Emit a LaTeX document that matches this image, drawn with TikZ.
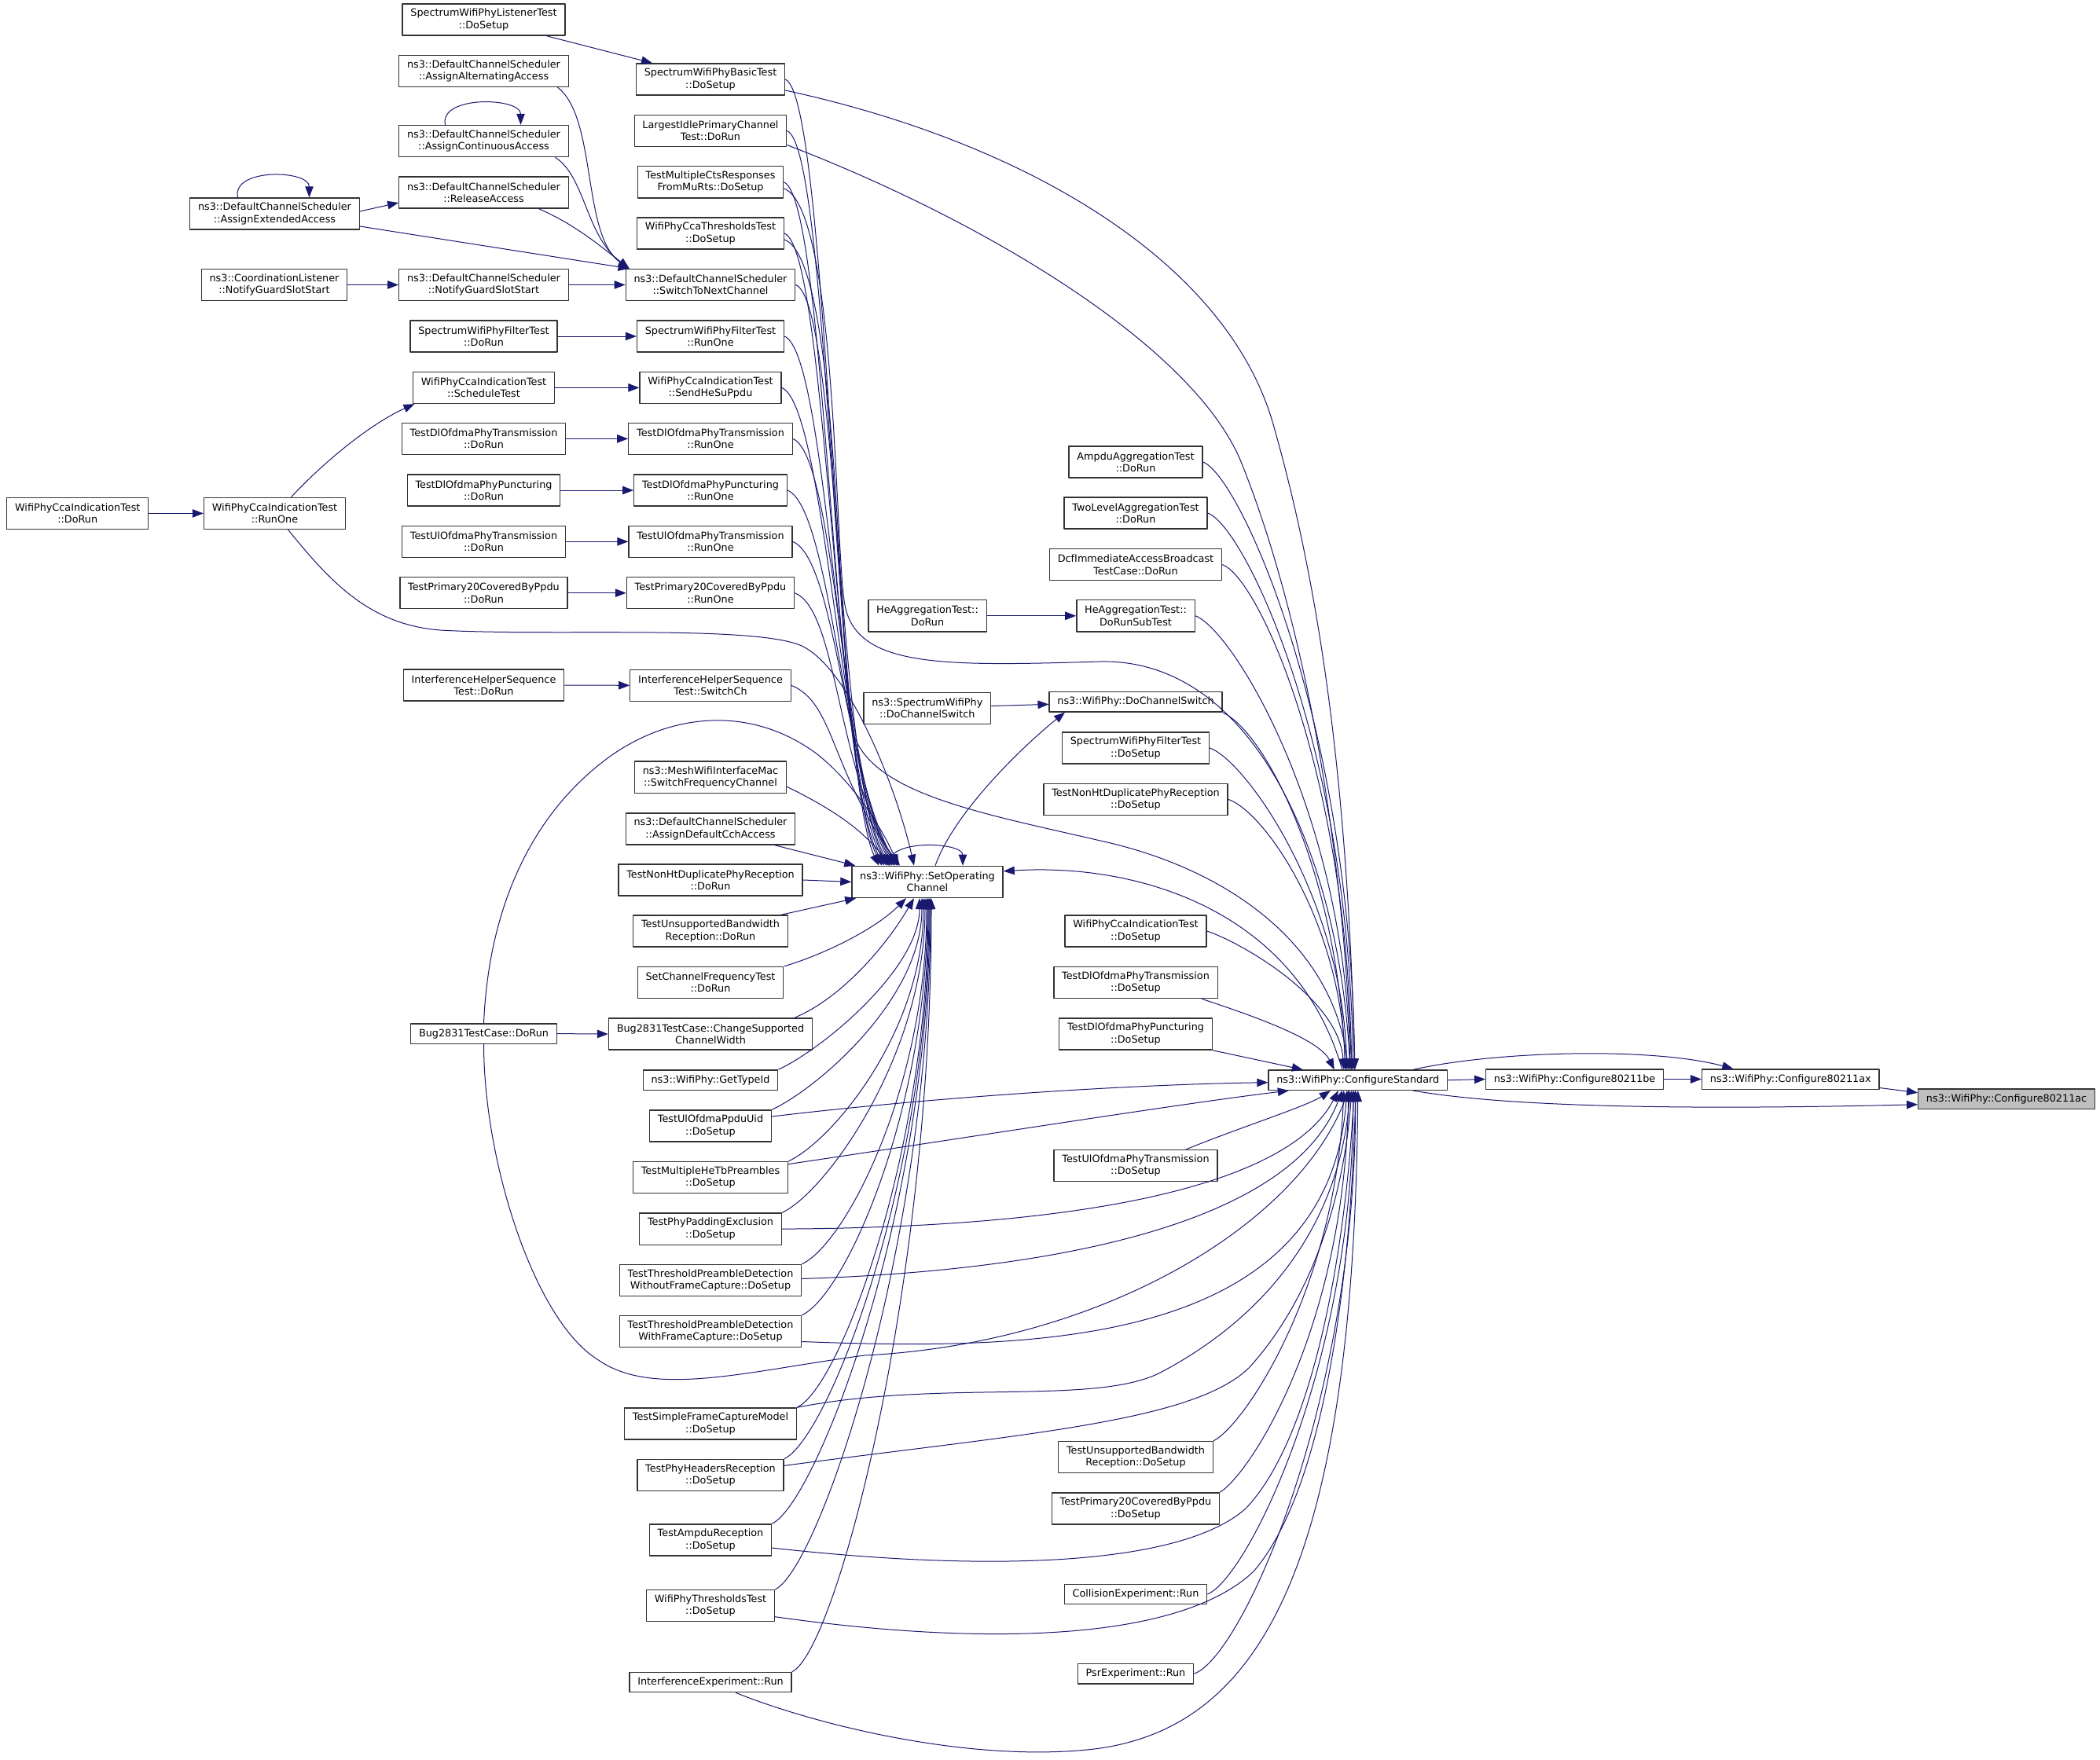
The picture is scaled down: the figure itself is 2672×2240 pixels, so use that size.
\documentclass[tikz,border=0pt]{standalone}
\usepackage{fontspec}
\setmainfont{DejaVu Sans}
\usetikzlibrary{arrows.meta}
\definecolor{edgeblue}{HTML}{191970}
\definecolor{hilite}{HTML}{BFBFBF}
\tikzset{
  fn/.style={draw=black!80, line width=1.3pt, fill=white, align=center, inner xsep=10.3pt, inner ysep=5pt, minimum height=25.3pt},
  fn2/.style={fn, minimum height=40.2pt},
  call/.style={draw=edgeblue, line width=1pt, ->},
}
\begin{document}
\begin{tikzpicture}[x=1pt, y=-1pt, font=\fontsize{12.8}{15.3}\selectfont, line join=round, >={Stealth[inset=0pt,length=14pt,width=10.5pt]}]
\useasboundingbox[fill=white] (0,0) rectangle (2672,2240);
% callers, left to right
\node[fn2] (ccaDoRun) at (98.75,653.4) {WifiPhyCcaIndicationTest\\::DoRun};
\node[fn2] (assignExt) at (349.5,272) {ns3::DefaultChannelScheduler\\::AssignExtendedAccess};
\node[fn2] (coordL) at (349,362.5) {ns3::CoordinationListener\\::NotifyGuardSlotStart};
\node[fn2] (ccaRunOne) at (349.5,653.4) {WifiPhyCcaIndicationTest\\::RunOne};
\node[fn2] (listener) at (615.5,25) {SpectrumWifiPhyListenerTest\\::DoSetup};
\node[fn2] (assignAlt) at (615.5,90.4) {ns3::DefaultChannelScheduler\\::AssignAlternatingAccess};
\node[fn2] (assignCont) at (615.5,179.6) {ns3::DefaultChannelScheduler\\::AssignContinuousAccess};
\node[fn2] (release) at (615.5,245) {ns3::DefaultChannelScheduler\\::ReleaseAccess};
\node[fn2] (dcsNotify) at (615.5,362.5) {ns3::DefaultChannelScheduler\\::NotifyGuardSlotStart};
\node[fn2] (filterDoRun) at (615.5,428) {SpectrumWifiPhyFilterTest\\::DoRun};
\node[fn2] (schedule) at (615.5,493.4) {WifiPhyCcaIndicationTest\\::ScheduleTest};
\node[fn2] (dlTxDoRun) at (615.5,558.4) {TestDlOfdmaPhyTransmission\\::DoRun};
\node[fn2] (punctDoRun) at (615.5,624) {TestDlOfdmaPhyPuncturing\\::DoRun};
\node[fn2] (ulTxDoRun) at (615.5,689.3) {TestUlOfdmaPhyTransmission\\::DoRun};
\node[fn2] (p20DoRun) at (615.5,754.7) {TestPrimary20CoveredByPpdu\\::DoRun};
\node[fn2] (ihsDoRun) at (615.5,872) {InterferenceHelperSequence\\Test::DoRun};
\node[fn] (bugDoRun) at (615.5,1315.6) {Bug2831TestCase::DoRun};
\node[fn2] (basic) at (904,101) {SpectrumWifiPhyBasicTest\\::DoSetup};
\node[fn2] (largest) at (904,166.5) {LargestIdlePrimaryChannel\\Test::DoRun};
\node[fn2] (multiCts) at (904,231.8) {TestMultipleCtsResponses\\FromMuRts::DoSetup};
\node[fn2] (ccaThr) at (904,297) {WifiPhyCcaThresholdsTest\\::DoSetup};
\node[fn2] (switchNext) at (904,362.5) {ns3::DefaultChannelScheduler\\::SwitchToNextChannel};
\node[fn2] (filterRunOne) at (904,428) {SpectrumWifiPhyFilterTest\\::RunOne};
\node[fn2] (sendHeSu) at (904,493.4) {WifiPhyCcaIndicationTest\\::SendHeSuPpdu};
\node[fn2] (dlTxRunOne) at (904,558.4) {TestDlOfdmaPhyTransmission\\::RunOne};
\node[fn2] (punctRunOne) at (904,624) {TestDlOfdmaPhyPuncturing\\::RunOne};
\node[fn2] (ulTxRunOne) at (904,689.3) {TestUlOfdmaPhyTransmission\\::RunOne};
\node[fn2] (p20RunOne) at (904,754.7) {TestPrimary20CoveredByPpdu\\::RunOne};
\node[fn2] (ihsSwitch) at (904,872.3) {InterferenceHelperSequence\\Test::SwitchCh};
\node[fn2] (mesh) at (904,989.2) {ns3::MeshWifiInterfaceMac\\::SwitchFrequencyChannel};
\node[fn2] (assignCch) at (904,1055) {ns3::DefaultChannelScheduler\\::AssignDefaultCchAccess};
\node[fn2] (nonHtDoRun) at (904,1120) {TestNonHtDuplicatePhyReception\\::DoRun};
\node[fn2] (unsupDoRun) at (904,1185) {TestUnsupportedBandwidth\\Reception::DoRun};
\node[fn2] (setFreq) at (904,1250.5) {SetChannelFrequencyTest\\::DoRun};
\node[fn2] (bugChange) at (904,1316) {Bug2831TestCase::ChangeSupported\\ChannelWidth};
\node[fn] (typeId) at (904,1374.5) {ns3::WifiPhy::GetTypeId};
\node[fn2] (ppduUid) at (904,1433) {TestUlOfdmaPpduUid\\::DoSetup};
\node[fn2] (heTb) at (904,1498.6) {TestMultipleHeTbPreambles\\::DoSetup};
\node[fn2] (padding) at (904,1564.1) {TestPhyPaddingExclusion\\::DoSetup};
\node[fn2] (thrWithout) at (904,1629.5) {TestThresholdPreambleDetection\\WithoutFrameCapture::DoSetup};
\node[fn2] (thrWith) at (904,1694.5) {TestThresholdPreambleDetection\\WithFrameCapture::DoSetup};
\node[fn2] (simpleCap) at (904,1812) {TestSimpleFrameCaptureModel\\::DoSetup};
\node[fn2] (phyHdr) at (904,1877.4) {TestPhyHeadersReception\\::DoSetup};
\node[fn2] (ampduRx) at (904,1960) {TestAmpduReception\\::DoSetup};
\node[fn2] (thrTest) at (904,2043.7) {WifiPhyThresholdsTest\\::DoSetup};
\node[fn] (interfExp) at (904,2141) {InterferenceExperiment::Run};
\node[fn2] (heDoRun) at (1180,783.8) {HeAggregationTest::\\DoRun};
\node[fn2] (spDoCh) at (1179.8,901.5) {ns3::SpectrumWifiPhy\\::DoChannelSwitch};
\node[fn2] (soc) at (1180,1122.4) {ns3::WifiPhy::SetOperating\\Channel};
\node[fn2] (ampduAgg) at (1445,588) {AmpduAggregationTest\\::DoRun};
\node[fn2] (twoLevel) at (1445,653) {TwoLevelAggregationTest\\::DoRun};
\node[fn2] (dcfImm) at (1445,718.6) {DcfImmediateAccessBroadcast\\TestCase::DoRun};
\node[fn2] (heSub) at (1445,783.8) {HeAggregationTest::\\DoRunSubTest};
\node[fn] (doCh) at (1445,893.4) {ns3::WifiPhy::DoChannelSwitch};
\node[fn2] (filterSetup) at (1445,952) {SpectrumWifiPhyFilterTest\\::DoSetup};
\node[fn2] (nonHtSetup) at (1445,1017.3) {TestNonHtDuplicatePhyReception\\::DoSetup};
\node[fn2] (ccaSetup) at (1445,1185) {WifiPhyCcaIndicationTest\\::DoSetup};
\node[fn2] (dlTxSetup) at (1445,1250.5) {TestDlOfdmaPhyTransmission\\::DoSetup};
\node[fn2] (punctSetup) at (1445,1316) {TestDlOfdmaPhyPuncturing\\::DoSetup};
\node[fn2] (ulTxSetup) at (1445,1483.7) {TestUlOfdmaPhyTransmission\\::DoSetup};
\node[fn2] (unsupSetup) at (1445,1854.6) {TestUnsupportedBandwidth\\Reception::DoSetup};
\node[fn2] (p20Setup) at (1445,1920) {TestPrimary20CoveredByPpdu\\::DoSetup};
\node[fn] (collision) at (1445,2029) {CollisionExperiment::Run};
\node[fn] (psr) at (1445,2130.2) {PsrExperiment::Run};
\node[fn] (confStd) at (1727.8,1374.7) {ns3::WifiPhy::ConfigureStandard};
\node[fn] (c11be) at (2003.6,1373.5) {ns3::WifiPhy::Configure80211be};
\node[fn] (c11ax) at (2278.3,1373.5) {ns3::WifiPhy::Configure80211ax};
\node[fn, fill=hilite] (c11ac) at (2553.1,1398.7) {ns3::WifiPhy::Configure80211ac};
% straight calls
\foreach \a/\b in {ccaDoRun/ccaRunOne, coordL/dcsNotify, dcsNotify/switchNext, filterDoRun/filterRunOne, schedule/sendHeSu, dlTxDoRun/dlTxRunOne, punctDoRun/punctRunOne, ulTxDoRun/ulTxRunOne, p20DoRun/p20RunOne, ihsDoRun/ihsSwitch, bugDoRun/bugChange, heDoRun/heSub, nonHtDoRun/soc, confStd/c11be, c11be/c11ax}
  \draw[call] (\a.east) -- (\b.west);
\draw[call] ([xshift=80pt]listener.south) -- ([xshift=-74pt]basic.north);
\draw[call] ([yshift=3pt]assignExt.east) -- ([yshift=-13pt]release.west);
\draw[call] ([yshift=-16pt]assignExt.east) -- ([xshift=5pt]switchNext.north west);
\draw[call] ([xshift=94pt]assignAlt.south) .. controls (760,150) and (740,300) .. ([xshift=5pt]switchNext.north west);
\draw[call] ([xshift=91pt]assignCont.south) .. controls (745,225) and (745,300) .. ([xshift=5pt]switchNext.north west);
\draw[call] ([xshift=70pt]release.south) .. controls (730,285) and (760,310) .. ([xshift=5pt]switchNext.north west);
\draw[call] ([xshift=-47pt]assignExt.north) .. controls +(-8,-38) and +(0,-35) .. ([xshift=44pt]assignExt.north);
\draw[call] ([xshift=-49pt]assignCont.north) .. controls +(-8,-38) and +(0,-35) .. ([xshift=47pt]assignCont.north);
\draw[call] ([xshift=21pt]ccaRunOne.north) .. controls (410,590) and (470,540) .. ([xshift=-88pt]schedule.south);
% calls into SetOperatingChannel
\foreach \n/\bx/\s in {basic/1062/-62, largest/1060/-58, multiCts/1058/-55, ccaThr/1060/-52, switchNext/1064/-50, filterRunOne/1066/-48, sendHeSu/1068/-45, dlTxRunOne/1070/-43, punctRunOne/1072/-41, ulTxRunOne/1074/-39, p20RunOne/1064/-37, ihsSwitch/1056/-35}
  \draw[call] (\n.east) .. controls +(55,22) and (\bx,980) .. ([xshift=\s pt]soc.north);
\foreach \n/\s/\k in {typeId/-10/90, ppduUid/-7/130, heTb/-5/170, padding/-3/200, thrWithout/-1/240, thrWith/0/270, simpleCap/1/320, phyHdr/2/360, ampduRx/3/400, thrTest/4/440, interfExp/5/500}
  \draw[call] (\n.north east) .. controls +(55,-25) and +(0,\k) .. ([xshift=\s pt]soc.south);
\draw[call] ([yshift=-12pt]mesh.east) .. controls (1070,1035) and (1100,1060) .. ([xshift=-47pt]soc.north);
\draw[call] ([xshift=82pt]assignCch.south) -- ([xshift=5pt]soc.north west);
\draw[call] ([xshift=90pt]unsupDoRun.north) -- ([xshift=6pt]soc.south west);
\draw[call] ([xshift=94pt]setFreq.north) .. controls +(50,-15) and +(-40,40) .. ([xshift=-27pt]soc.south);
\draw[call] ([xshift=107pt]bugChange.north) .. controls +(60,-25) and +(-35,60) .. ([xshift=-17pt]soc.south);
\draw[call] ([xshift=17pt]ccaRunOne.south) .. controls (420,740) and (470,795) .. (560,802) .. controls (700,810) and (960,795) .. (1020,822) .. controls (1080,850) and (1140,1000) .. ([xshift=-17pt]soc.north);
\draw[call] (bugDoRun.north) .. controls (622,1150) and (680,1030) .. (780,960) .. controls (860,905) and (960,900) .. (1040,960) .. controls (1090,1000) and (1125,1060) .. ([xshift=-37pt]soc.north);
\draw[call] ([xshift=-49pt]soc.north) .. controls +(-5,-35) and +(0,-30) .. ([xshift=45pt]soc.north);
\draw[call] ([xshift=-20pt]confStd.north) .. controls (1650,1160) and (1450,1098) .. (soc.8);
% channel switch
\draw[call] ([xshift=10pt]soc.north) .. controls +(25,-70) and +(-50,40) .. ([xshift=-90pt]doCh.south);
\draw[call] ([yshift=3pt]spDoCh.east) -- ([yshift=-3pt]doCh.west);
\draw[call] (doCh.south east) .. controls +(55,25) and +(-10,-250) .. ([xshift=-16pt]confStd.north);
% calls into ConfigureStandard
\foreach \n/\s/\k in {ampduAgg/-4/450, twoLevel/-6/420, dcfImm/-8/380, heSub/-10/330, filterSetup/-14/220, nonHtSetup/-16/190, ccaSetup/-18/90}
  \draw[call] (\n.east) .. controls +(45,15) and +(-6,-\k) .. ([xshift=\s pt]confStd.north);
\draw[call] ([xshift=84pt]dlTxSetup.south) .. controls +(60,20) and +(-20,-40) .. ([xshift=-30pt]confStd.north);
\draw[call] (punctSetup.south east) -- ([xshift=-70pt]confStd.north);
\draw[call] ([xshift=64pt]ulTxSetup.north) .. controls +(60,-25) and +(-30,20) .. ([xshift=-35pt]confStd.south);
\draw[call] (unsupSetup.north east) .. controls +(40,-20) and +(-10,250) .. ([xshift=-18pt]confStd.south);
\draw[call] (p20Setup.north east) .. controls +(40,-25) and +(-5,300) .. ([xshift=-12pt]confStd.south);
\draw[call] (collision.east) .. controls +(50,-20) and +(0,350) .. ([xshift=-6pt]confStd.south);
\draw[call] (psr.east) .. controls +(60,-20) and +(0,400) .. ([xshift=-3pt]confStd.south);
\draw[call] ([yshift=-14pt]basic.east) .. controls (1300,180) and (1560,330) .. (1620,540) .. controls (1680,750) and (1715,1000) .. ([xshift=-4pt]confStd.north);
\draw[call] ([yshift=-18pt]largest.east) .. controls (1250,280) and (1520,440) .. (1580,590) .. controls (1640,740) and (1705,1000) .. ([xshift=-8pt]confStd.north);
\draw[call] ([yshift=-8pt]multiCts.east) .. controls (1065,265) and (1062,700) .. (1075,770) .. controls (1090,850) and (1200,848) .. (1400,842) .. controls (1600,838) and (1705,1100) .. ([xshift=-10pt]confStd.north);
\draw[call] ([yshift=-8pt]ccaThr.east) .. controls (1068,330) and (1065,820) .. (1085,930) .. controls (1105,1010) and (1250,1035) .. (1400,1070) .. controls (1560,1105) and (1695,1200) .. ([xshift=-12pt]confStd.north);
\draw[call] ([yshift=12pt]ppduUid.east) .. controls (1200,1395) and (1450,1380) .. ([yshift=-3pt]confStd.west);
\draw[call] ([yshift=17pt]heTb.east) .. controls (1250,1445) and (1500,1405) .. ([xshift=-88pt]confStd.south);
\draw[call] (padding.east) .. controls (1450,1562) and (1650,1490) .. ([xshift=-25pt]confStd.south);
\draw[call] ([yshift=2pt]thrWithout.east) .. controls (1400,1615) and (1650,1540) .. ([xshift=-20pt]confStd.south);
\draw[call] ([yshift=-13pt]thrWith.east) .. controls (1300,1718) and (1690,1720) .. ([xshift=-14pt]confStd.south);
\draw[call] (bugDoRun.south) .. controls +(0,150) and (680,1680) .. (760,1730) .. controls (830,1780) and (950,1745) .. (1100,1725) .. controls (1400,1710) and (1650,1560) .. ([xshift=-12pt]confStd.south);
\draw[call] (simpleCap.north east) .. controls (1200,1755) and (1400,1790) .. (1480,1745) .. controls (1620,1670) and (1705,1550) .. ([xshift=-10pt]confStd.south);
\draw[call] ([yshift=12pt]phyHdr.east) .. controls (1300,1825) and (1520,1810) .. (1590,1740) .. controls (1680,1640) and (1712,1500) .. ([xshift=-8pt]confStd.south);
\draw[call] ([yshift=-10pt]ampduRx.east) .. controls (1250,2000) and (1500,1995) .. (1585,1920) .. controls (1680,1820) and (1715,1550) .. ([xshift=-5pt]confStd.south);
\draw[call] ([yshift=-14pt]thrTest.east) .. controls (1250,2095) and (1500,2090) .. (1595,2000) .. controls (1690,1890) and (1720,1600) .. ([xshift=-3pt]confStd.south);
\draw[call] ([xshift=32pt]interfExp.south) .. controls (1050,2200) and (1250,2245) .. (1400,2225) .. controls (1600,2195) and (1722,2000) .. (confStd.south);
% the standard chain
\draw[call] ([xshift=70pt]confStd.north) .. controls (1900,1338) and (2100,1332) .. ([xshift=-73pt]c11ax.north);
\draw[call] ([xshift=70pt]confStd.south) .. controls (1900,1406) and (2100,1414) .. ([yshift=-7pt]c11ac.west);
\draw[call] ([yshift=-11pt]c11ax.east) -- ([yshift=8pt]c11ac.west);
\end{tikzpicture}
\end{document}
